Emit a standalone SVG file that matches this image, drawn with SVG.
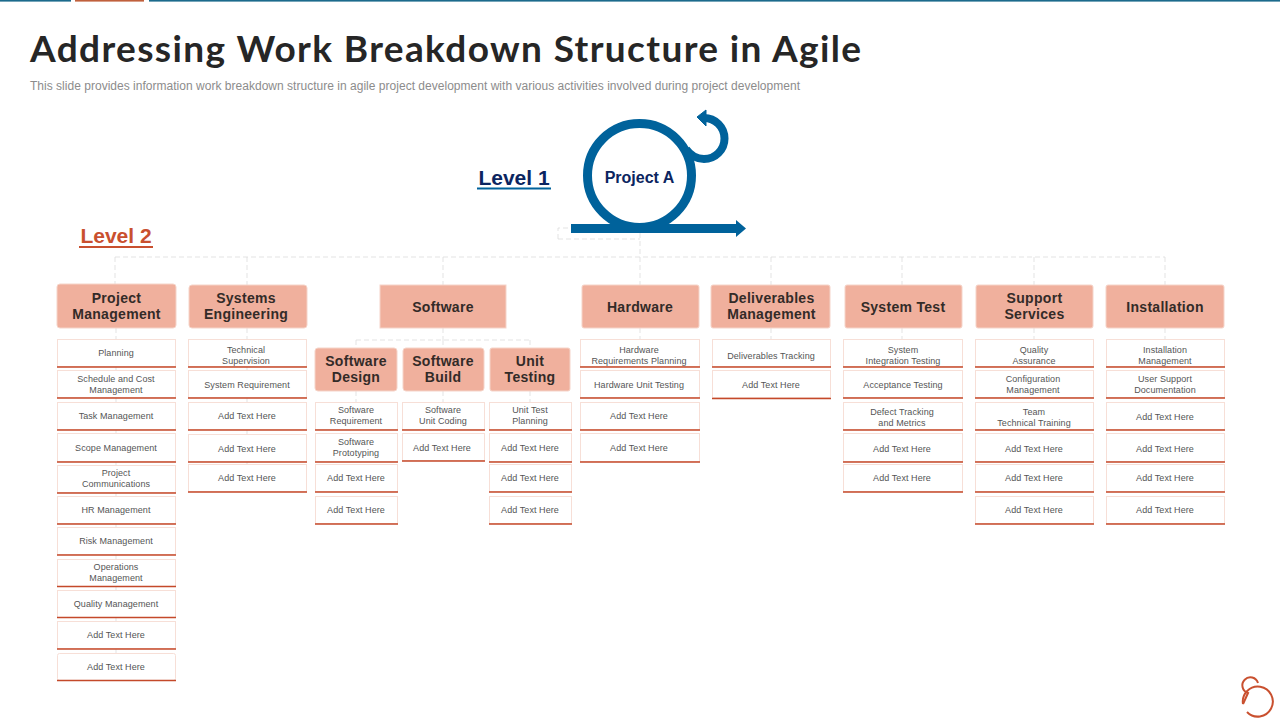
<svg xmlns="http://www.w3.org/2000/svg" width="1280" height="720" viewBox="0 0 1280 720">
<style>
text{font-family:"Liberation Sans",Arial,sans-serif;text-anchor:middle}
.h rect{fill:#f0b09d;stroke:#f5d4c9;stroke-width:1}
.h text{font-size:14px;font-weight:700;fill:#332b28;letter-spacing:.3px}
.i rect{fill:#fff;stroke:#f7dfd7;stroke-width:1}
.i line{stroke:#c4492a;stroke-width:1.3}
.i text{font-size:9px;fill:#555;letter-spacing:.08px}
.c path{fill:none;stroke:#dcdcdc;stroke-width:.8;stroke-dasharray:5 3}
.b{fill:none;stroke:#00629b}
</style>
<rect width="1280" height="720" fill="#fff"/>
<g id="topbar"><rect x="0" y="0" width="71" height="1.6" fill="#1c6a8c"/><rect x="75" y="0" width="69" height="1.6" fill="#c0603c"/><rect x="149" y="0" width="1131" height="1.6" fill="#1c6a8c"/></g>
<text x="30" y="62" style="text-anchor:start;font-family:Lato,sans-serif;font-size:37px;font-weight:700;fill:#262626" textLength="831">Addressing Work Breakdown Structure in Agile</text>
<text x="30" y="90" style="text-anchor:start;font-size:12px;fill:#8c8c8c" textLength="770">This slide provides information work breakdown structure in agile project development with various activities involved during project development</text>
<g class="c" id="connectors">
<path d="M640 233V257M558 239H640M558 239V228H571M115 257H1165M115 257V284M247 257V285M443 257V285M640 257V285M771 257V285M902 257V285M1034 257V285M1165 257V285"/>
<path d="M443 328V340M356 340H530M356 340V348M530 340V348M443 340V348M356 391V402M443 391V402M530 391V402"/>
<path d="M116 328V339M116 367V370M116 398V402M116 430V433M116 461V465M116 493V496M116 524V527M116 555V559M116 587V590M116 618V621M116 649V653"/>
<path d="M247 328V339M247 367V370M247 398V402M247 430V434M247 462V464"/>
<path d="M640 328V339M771 328V339M902 328V339M1034 328V339M1165 328V339"/>
</g>
<g id="project-a">
<circle class="b" cx="639.500" cy="175.500" r="52" stroke-width="9"/>
<path class="b" d="M686 149C691 156 697 159 704 159A20.500 20.500 0 0 0 704 118" stroke-width="8"/>
<path d="M706 110L697 117L706 126Z" fill="#00629b" stroke="#00629b" stroke-width="1"/>
<path d="M571 224H736V220L746 228.500L736 237V233H571Z" fill="#00629b"/>
<text x="639.500" y="183" style="font-size:16px;font-weight:700;fill:#0b2560">Project A</text>
</g>
<g id="level-1"><text x="514" y="185" style="font-size:21px;font-weight:700;fill:#0b2560">Level 1</text><rect x="477" y="187.500" width="74" height="2" fill="#00629b"/></g>
<g id="level-2"><text x="116" y="243" style="font-size:21px;font-weight:700;fill:#c9502f">Level 2</text><rect x="79" y="246" width="74" height="2" fill="#c9502f"/></g>

<g class="h" id="n-pm"><rect x="57" y="284" width="119" height="44" rx="3"/><text x="116.500" y="303">Project</text><text x="116.500" y="319">Management</text></g>
<g class="h" id="n-se"><rect x="189" y="285" width="118" height="43" rx="3"/><text x="246" y="303">Systems</text><text x="246" y="319">Engineering</text></g>
<g class="h" id="n-sw"><rect x="380" y="285" width="126" height="43"/><text x="443" y="312">Software</text></g>
<g class="h" id="n-hw"><rect x="582" y="285" width="117" height="43" rx="2"/><text x="640" y="312">Hardware</text></g>
<g class="h" id="n-dm"><rect x="711" y="285" width="119" height="43" rx="2"/><text x="771.500" y="303">Deliverables</text><text x="771.500" y="319">Management</text></g>
<g class="h" id="n-st"><rect x="845" y="285" width="117" height="43" rx="2"/><text x="903" y="312">System Test</text></g>
<g class="h" id="n-ss"><rect x="976" y="285" width="117" height="43" rx="2"/><text x="1034.500" y="303">Support</text><text x="1034.500" y="319">Services</text></g>
<g class="h" id="n-in"><rect x="1106" y="285" width="118" height="43" rx="2"/><text x="1165" y="312">Installation</text></g>
<g class="h" id="n-sd"><rect x="315" y="348" width="82" height="43" rx="3"/><text x="356" y="366">Software</text><text x="356" y="382">Design</text></g>
<g class="h" id="n-sb"><rect x="403" y="348" width="81" height="43" rx="3"/><text x="443" y="366">Software</text><text x="443" y="382">Build</text></g>
<g class="h" id="n-ut"><rect x="490" y="348" width="80" height="43" rx="2"/><text x="530" y="366">Unit</text><text x="530" y="382">Testing</text></g>

<g class="i" id="pm1"><rect x="57.500" y="339.500" width="118" height="27"/><line x1="57" x2="176" y1="367" y2="367"/><text x="116" y="356">Planning</text></g>
<g class="i" id="pm2"><rect x="57.500" y="370.500" width="118" height="27"/><line x1="57" x2="176" y1="398" y2="398"/><text x="116" y="382">Schedule and Cost</text><text x="116" y="393">Management</text></g>
<g class="i" id="pm3"><rect x="57.500" y="402.500" width="118" height="27"/><line x1="57" x2="176" y1="430" y2="430"/><text x="116" y="419">Task Management</text></g>
<g class="i" id="pm4"><rect x="57.500" y="433.500" width="118" height="28"/><line x1="57" x2="176" y1="462" y2="462"/><text x="116" y="451">Scope Management</text></g>
<g class="i" id="pm5"><rect x="57.500" y="465.500" width="118" height="27"/><line x1="57" x2="176" y1="493" y2="493"/><text x="116" y="476">Project</text><text x="116" y="487">Communications</text></g>
<g class="i" id="pm6"><rect x="57.500" y="496.500" width="118" height="27"/><line x1="57" x2="176" y1="524" y2="524"/><text x="116" y="513">HR Management</text></g>
<g class="i" id="pm7"><rect x="57.500" y="527.500" width="118" height="27"/><line x1="57" x2="176" y1="555" y2="555"/><text x="116" y="544">Risk Management</text></g>
<g class="i" id="pm8"><rect x="57.500" y="559.500" width="118" height="27"/><line x1="57" x2="176" y1="586.500" y2="586.500"/><text x="116" y="570">Operations</text><text x="116" y="581">Management</text></g>
<g class="i" id="pm9"><rect x="57.500" y="590.500" width="118" height="27"/><line x1="57" x2="176" y1="617.500" y2="617.500"/><text x="116" y="607">Quality Management</text></g>
<g class="i" id="pm10"><rect x="57.500" y="621.500" width="118" height="27"/><line x1="57" x2="176" y1="649" y2="649"/><text x="116" y="638">Add Text Here</text></g>
<g class="i" id="pm11"><rect x="57.500" y="653.500" width="118" height="27" rx="2"/><line x1="57" x2="176" y1="680.500" y2="680.500"/><text x="116" y="670">Add Text Here</text></g>

<g class="i" id="se1"><rect x="188.500" y="339.500" width="118" height="27"/><line x1="188" x2="307" y1="367" y2="367"/><text x="246" y="353">Technical</text><text x="246" y="364">Supervision</text></g>
<g class="i" id="se2"><rect x="188.500" y="370.500" width="118" height="27"/><line x1="188" x2="307" y1="398" y2="398"/><text x="247" y="388">System Requirement</text></g>
<g class="i" id="se3"><rect x="188.500" y="402.500" width="118" height="27"/><line x1="188" x2="307" y1="430" y2="430"/><text x="247" y="419">Add Text Here</text></g>
<g class="i" id="se4"><rect x="188.500" y="434.500" width="118" height="27"/><line x1="188" x2="307" y1="462" y2="462"/><text x="247" y="452">Add Text Here</text></g>
<g class="i" id="se5"><rect x="188.500" y="464.500" width="118" height="27"/><line x1="188" x2="307" y1="492" y2="492"/><text x="247" y="481">Add Text Here</text></g>

<g class="i" id="sd1"><rect x="315.500" y="402.500" width="82" height="27"/><line x1="315" x2="398" y1="430" y2="430"/><text x="356" y="413">Software</text><text x="356" y="424">Requirement</text></g>
<g class="i" id="sd2"><rect x="315.500" y="433.500" width="82" height="28"/><line x1="315" x2="398" y1="462" y2="462"/><text x="356" y="445">Software</text><text x="356" y="456">Prototyping</text></g>
<g class="i" id="sd3"><rect x="315.500" y="464.500" width="82" height="27"/><line x1="315" x2="398" y1="492" y2="492"/><text x="356" y="481">Add Text Here</text></g>
<g class="i" id="sd4"><rect x="315.500" y="496.500" width="82" height="27"/><line x1="315" x2="398" y1="524" y2="524"/><text x="356" y="513">Add Text Here</text></g>

<g class="i" id="sb1"><rect x="402.500" y="402.500" width="82" height="27"/><line x1="402" x2="485" y1="430" y2="430"/><text x="443" y="413">Software</text><text x="443" y="424">Unit Coding</text></g>
<g class="i" id="sb2"><rect x="402.500" y="433.500" width="82" height="27"/><line x1="402" x2="485" y1="461" y2="461"/><text x="442" y="451">Add Text Here</text></g>

<g class="i" id="ut1"><rect x="489.500" y="402.500" width="82" height="27"/><line x1="489" x2="572" y1="430" y2="430"/><text x="530" y="413">Unit Test</text><text x="530" y="424">Planning</text></g>
<g class="i" id="ut2"><rect x="489.500" y="433.500" width="82" height="28"/><line x1="489" x2="572" y1="462" y2="462"/><text x="530" y="451">Add Text Here</text></g>
<g class="i" id="ut3"><rect x="489.500" y="464.500" width="82" height="27"/><line x1="489" x2="572" y1="492" y2="492"/><text x="530" y="481">Add Text Here</text></g>
<g class="i" id="ut4"><rect x="489.500" y="496.500" width="82" height="27"/><line x1="489" x2="572" y1="524" y2="524"/><text x="530" y="513">Add Text Here</text></g>

<g class="i" id="hw1"><rect x="580.500" y="339.500" width="119" height="27"/><line x1="580" x2="700" y1="367" y2="367"/><text x="639" y="353">Hardware</text><text x="639" y="364">Requirements Planning</text></g>
<g class="i" id="hw2"><rect x="580.500" y="370.500" width="119" height="27"/><line x1="580" x2="700" y1="398" y2="398"/><text x="639" y="388">Hardware Unit Testing</text></g>
<g class="i" id="hw3"><rect x="580.500" y="402.500" width="119" height="27"/><line x1="580" x2="700" y1="430" y2="430"/><text x="639" y="419">Add Text Here</text></g>
<g class="i" id="hw4"><rect x="580.500" y="433.500" width="119" height="28"/><line x1="580" x2="700" y1="462" y2="462"/><text x="639" y="451">Add Text Here</text></g>

<g class="i" id="dm1"><rect x="712.500" y="339.500" width="118" height="27"/><line x1="712" x2="831" y1="367" y2="367"/><text x="771" y="359">Deliverables Tracking</text></g>
<g class="i" id="dm2"><rect x="712.500" y="370.500" width="118" height="27"/><line x1="712" x2="831" y1="398.500" y2="398.500"/><text x="771" y="388">Add Text Here</text></g>

<g class="i" id="st1"><rect x="843.500" y="339.500" width="119" height="27"/><line x1="843" x2="963" y1="367" y2="367"/><text x="903" y="353">System</text><text x="903" y="364">Integration Testing</text></g>
<g class="i" id="st2"><rect x="843.500" y="370.500" width="119" height="27"/><line x1="843" x2="963" y1="398" y2="398"/><text x="903" y="388">Acceptance Testing</text></g>
<g class="i" id="st3"><rect x="843.500" y="402.500" width="119" height="27"/><line x1="843" x2="963" y1="430" y2="430"/><text x="902" y="415">Defect Tracking</text><text x="902" y="426">and Metrics</text></g>
<g class="i" id="st4"><rect x="843.500" y="433.500" width="119" height="28"/><line x1="843" x2="963" y1="462" y2="462"/><text x="902" y="452">Add Text Here</text></g>
<g class="i" id="st5"><rect x="843.500" y="464.500" width="119" height="27"/><line x1="843" x2="963" y1="492" y2="492"/><text x="902" y="481">Add Text Here</text></g>

<g class="i" id="ss1"><rect x="975.500" y="339.500" width="118" height="27"/><line x1="975" x2="1094" y1="367" y2="367"/><text x="1034" y="353">Quality</text><text x="1034" y="364">Assurance</text></g>
<g class="i" id="ss2"><rect x="975.500" y="370.500" width="118" height="27"/><line x1="975" x2="1094" y1="398" y2="398"/><text x="1033" y="382">Configuration</text><text x="1033" y="393">Management</text></g>
<g class="i" id="ss3"><rect x="975.500" y="402.500" width="118" height="27"/><line x1="975" x2="1094" y1="430" y2="430"/><text x="1034" y="415">Team</text><text x="1034" y="426">Technical Training</text></g>
<g class="i" id="ss4"><rect x="975.500" y="433.500" width="118" height="28"/><line x1="975" x2="1094" y1="462" y2="462"/><text x="1034" y="452">Add Text Here</text></g>
<g class="i" id="ss5"><rect x="975.500" y="464.500" width="118" height="27"/><line x1="975" x2="1094" y1="492" y2="492"/><text x="1034" y="481">Add Text Here</text></g>
<g class="i" id="ss6"><rect x="975.500" y="496.500" width="118" height="27"/><line x1="975" x2="1094" y1="524" y2="524"/><text x="1034" y="513">Add Text Here</text></g>

<g class="i" id="in1"><rect x="1106.500" y="339.500" width="118" height="27"/><line x1="1106" x2="1225" y1="367" y2="367"/><text x="1165" y="353">Installation</text><text x="1165" y="364">Management</text></g>
<g class="i" id="in2"><rect x="1106.500" y="370.500" width="118" height="27"/><line x1="1106" x2="1225" y1="398" y2="398"/><text x="1165" y="382">User Support</text><text x="1165" y="393">Documentation</text></g>
<g class="i" id="in3"><rect x="1106.500" y="402.500" width="118" height="27"/><line x1="1106" x2="1225" y1="430" y2="430"/><text x="1165" y="420">Add Text Here</text></g>
<g class="i" id="in4"><rect x="1106.500" y="433.500" width="118" height="28"/><line x1="1106" x2="1225" y1="462" y2="462"/><text x="1165" y="452">Add Text Here</text></g>
<g class="i" id="in5"><rect x="1106.500" y="464.500" width="118" height="27"/><line x1="1106" x2="1225" y1="492" y2="492"/><text x="1165" y="481">Add Text Here</text></g>
<g class="i" id="in6"><rect x="1106.500" y="496.500" width="118" height="27"/><line x1="1106" x2="1225" y1="524" y2="524"/><text x="1165" y="513">Add Text Here</text></g>

<g id="logo" fill="none" stroke="#c9502f" stroke-width="2"><path d="M1243 704A15 15 0 1 1 1247 712"/><path d="M1258 683A8 8 0 1 0 1248 693L1243 704"/></g>
</svg>
